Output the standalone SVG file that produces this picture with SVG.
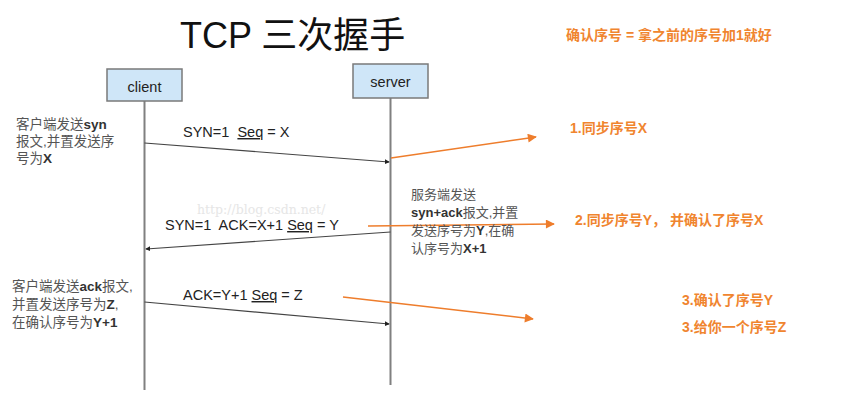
<svg xmlns="http://www.w3.org/2000/svg" width="858" height="404" viewBox="0 0 858 404">
<defs>
<marker id="blk" viewBox="0 0 6 6" refX="5" refY="3" markerWidth="5" markerHeight="5" orient="auto" markerUnits="userSpaceOnUse"><path d="M0,0 L6,3 L0,6 z" fill="#222"/></marker>
<marker id="org" viewBox="0 0 10 10" refX="9" refY="5" markerWidth="12" markerHeight="9" orient="auto" markerUnits="userSpaceOnUse"><path d="M0,0 L10,5 L0,10 z" fill="#ee7d2c"/></marker>
</defs>
<style>
text{font-family:"Liberation Sans","Noto Sans CJK SC",Arial,sans-serif}
.box{fill:#cfe6f8;stroke:#7a7a7a;stroke-width:1.5}
.life{stroke:#808080;stroke-width:2}
.msg{stroke:#444;stroke-width:1.2;fill:none;marker-end:url(#blk)}
.lbl{font-size:14.5px;fill:#222}
.note{font-size:13.5px;fill:#555}
.note2{font-size:13px;fill:#555}
.b{font-weight:bold;fill:#333}
.ora{stroke:#ee7d2c;stroke-width:1.5;fill:none;marker-end:url(#org)}
.ot{font-size:14px;font-weight:bold;fill:#f0852f}
.u{text-decoration:underline}
</style>
<rect width="858" height="404" fill="#fff"/>
<text x="180" y="48" font-size="36" fill="#111">TCP 三次握手</text>
<text x="566" y="40" class="ot">确认序号 = 拿之前的序号加1就好</text>
<g id="client">
<line class="life" x1="144.5" y1="101" x2="144.5" y2="390"/>
<rect class="box" x="107" y="69" width="75" height="32"/>
<text x="144.5" y="92" class="lbl" text-anchor="middle">client</text>
</g>
<g id="server">
<line class="life" x1="390.5" y1="98" x2="390.5" y2="385"/>
<rect class="box" x="353" y="64" width="75" height="34"/>
<text x="390.5" y="87" class="lbl" text-anchor="middle">server</text>
</g>
<text x="197" y="214" font-size="12.5" fill="#e6e6e6" style="font-family:'DejaVu Serif',serif">http://blog.csdn.net/</text>
<g id="connectors">
<line class="msg" x1="144.5" y1="143" x2="389" y2="162"/>
<line class="msg" x1="390.5" y1="232" x2="146" y2="249"/>
<line class="msg" x1="144.5" y1="302" x2="389" y2="324"/>
<line class="ora" x1="391" y1="158" x2="536" y2="137"/>
<line class="ora" x1="368" y1="226" x2="554" y2="224"/>
<line class="ora" x1="343" y1="297" x2="533" y2="319"/>
</g>
<text x="183" y="137" class="lbl" xml:space="preserve">SYN=1  <tspan class="u">Seq</tspan> = X</text>
<text x="165" y="230" class="lbl" xml:space="preserve">SYN=1  ACK=X+1 <tspan class="u">Seq</tspan> = Y</text>
<text x="183" y="300" class="lbl">ACK=Y+1 <tspan class="u">Seq</tspan> = Z</text>
<g id="note1" class="note">
<text x="16" y="129">客户端发送<tspan class="b">syn</tspan></text>
<text x="16" y="146">报文,并置发送序</text>
<text x="16" y="163">号为<tspan class="b">X</tspan></text>
</g>
<g id="note2" class="note2">
<text x="411" y="199">服务端发送</text>
<text x="411" y="217"><tspan class="b">syn+ack</tspan>报文,并置</text>
<text x="411" y="235">发送序号为<tspan class="b">Y</tspan>,在确</text>
<text x="411" y="253">认序号为<tspan class="b">X+1</tspan></text>
</g>
<g id="note3" class="note">
<text x="12" y="291">客户端发送<tspan class="b">ack</tspan>报文,</text>
<text x="12" y="309">并置发送序号为<tspan class="b">Z</tspan>,</text>
<text x="12" y="327">在确认序号为<tspan class="b">Y+1</tspan></text>
</g>
<text x="570" y="133" class="ot">1.同步序号X</text>
<text x="575" y="225" class="ot">2.同步序号Y， 并确认了序号X</text>
<text x="682" y="305" class="ot">3.确认了序号Y</text>
<text x="682" y="332" class="ot">3.给你一个序号Z</text>
</svg>
